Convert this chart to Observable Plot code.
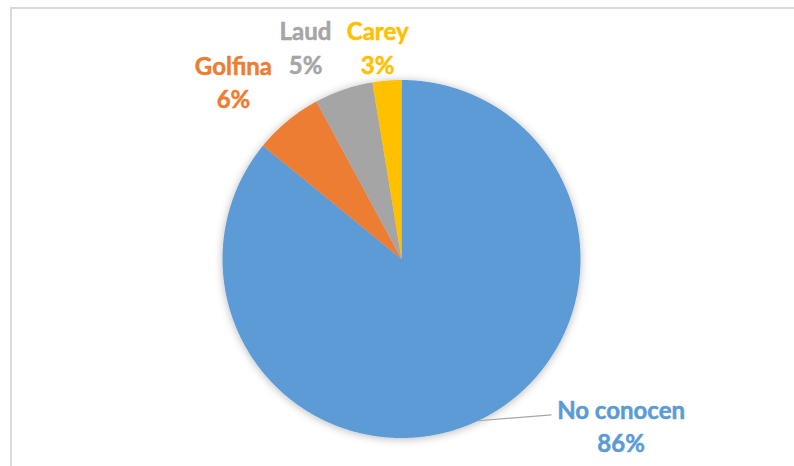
<!DOCTYPE html>
<html>
<head>
<meta charset="utf-8">
<script src="https://cdn.jsdelivr.net/npm/d3@7"></script>
<script src="https://cdn.jsdelivr.net/npm/@observablehq/plot@0.6"></script>
<style>
  html, body { margin: 0; padding: 0; background: #fff; overflow: hidden; }
  #wrap { position: relative; width: 794px; height: 466px; }
  #frame { position: absolute; left: 10px; top: 7px; width: 900px; height: 600px;
           border-left: 2px solid #d9d9d9; border-top: 2px solid #d9d9d9; pointer-events: none; }
  #chart { position: absolute; left: 0; top: 0; }
</style>
</head>
<body>
<div id="wrap"><div id="chart"></div><div id="frame"></div></div>
<script>
// Data
const categories = ["No conocen", "Golfina", "Laud", "Carey"];
const values = [86.0, 6.2, 5.3, 2.6];
const colors = ["#5B9BD5", "#ED7D31", "#A5A5A5", "#FFC000"];

// Label layout (polar: degrees clockwise from top, radius in pie radii)
const labelAngle = [127.0, -43.3, -24.3, -6.4];
const labelRadius = [1.536, 1.369, 1.303, 1.195];
const leaderEnd = {angle: 136.1, radius: 1.208};

const total = d3.sum(values);
const pieGen = d3.pie().sort(null).value(d => d);
const arcs = pieGen(values);

const toXY = (a, r) => [r * Math.sin(a), r * Math.cos(a)];
const rad = d => d * Math.PI / 180;

// Slice polygons in unit coordinates
const slicePts = [];
arcs.forEach((a, i) => {
  const name = categories[i];
  slicePts.push({name, x: 0, y: 0});
  const n = Math.max(2, Math.ceil((a.endAngle - a.startAngle) / 0.005));
  for (let k = 0; k <= n; k++) {
    const t = a.startAngle + (a.endAngle - a.startAngle) * k / n;
    const [x, y] = toXY(t, 1);
    slicePts.push({name, x, y});
  }
  slicePts.push({name, x: 0, y: 0});
});

const fmt = d3.format(".0%");
const labels = categories.map((c, i) => {
  const [x, y] = toXY(rad(labelAngle[i]), labelRadius[i]);
  return {x, y, text: c + "\n" + fmt(values[i] / total), color: colors[i]};
});

const mid0 = (arcs[0].startAngle + arcs[0].endAngle) / 2;
const [lx0, ly0] = toXY(mid0, 1);
const [lx1, ly1] = toXY(rad(leaderEnd.angle), leaderEnd.radius);
const leader = [{x1: lx0, y1: ly0, x2: lx1, y2: ly1}];

const cx = 401, cy = 258.5, R = 179;

const plot = Plot.plot({
  width: 794,
  height: 466,
  margin: 0,
  x: {domain: [-1, 1], range: [cx - R, cx + R], axis: null},
  y: {domain: [-1, 1], range: [cy + R, cy - R], axis: null},
  color: {domain: categories, range: colors},
  style: {background: "transparent", overflow: "visible"},
  marks: [
    Plot.line(slicePts, {x: "x", y: "y", z: "name", fill: "name", stroke: "none", curve: "linear"}),
    Plot.link(leader, {x1: "x1", y1: "y1", x2: "x2", y2: "y2", stroke: "#A6A6A6", strokeWidth: 1.2}),
    Plot.text(labels, {
      x: "x", y: "y", text: "text", fill: d => d.color, stroke: d => d.color, strokeWidth: 0.5,
      fontFamily: "Lato", fontWeight: 700, fontSize: 24, lineHeight: 1.38,
      textAnchor: "middle", lineAnchor: "middle"
    })
  ]
});

// soft shadow like the original
const svg = d3.select(plot);
const defs = svg.insert("defs", ":first-child");
const f = defs.append("filter").attr("id", "pieShadow").attr("x", "-20%").attr("y", "-20%").attr("width", "140%").attr("height", "140%");
f.append("feDropShadow").attr("dx", 0).attr("dy", 1).attr("stdDeviation", 4).attr("flood-color", "#000").attr("flood-opacity", 0.28);
svg.select('g[aria-label="line"]').attr("filter", "url(#pieShadow)");

document.getElementById("chart").appendChild(plot);
</script>
</body>
</html>
